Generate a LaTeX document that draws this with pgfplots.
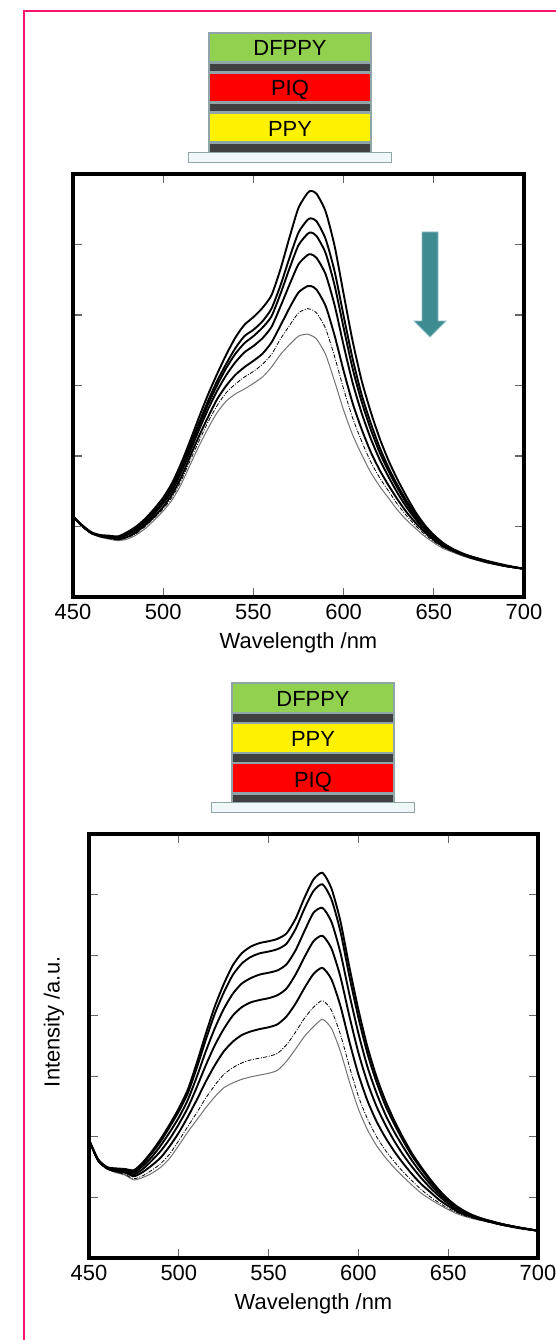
\documentclass[border=0pt]{standalone}
\usepackage{pgfplots}
\pgfplotsset{compat=1.18}
\usepackage{pgfplotstable}
\usepackage{fontspec}
\setmainfont{Liberation Sans}
\definecolor{pinkb}{RGB}{255,20,110}
\definecolor{dfgreen}{RGB}{146,208,80}
\definecolor{layergray}{RGB}{143,165,168}
\definecolor{darkl}{RGB}{64,64,64}
\definecolor{subfill}{RGB}{240,247,248}
\definecolor{tealA}{RGB}{62,140,146}
\definecolor{tealB}{RGB}{140,190,195}
\newcommand\bigfont{\fontsize{22}{26}\selectfont}

\pgfplotstableread{
x a b c d e f g
450 1.14 1.14 1.14 1.14 1.14 1.14 1.14
455 1.02 1.02 1.01 1.01 1.01 1.00 1.00
460 0.92 0.92 0.91 0.91 0.91 0.90 0.90
465 0.88 0.87 0.87 0.87 0.86 0.86 0.85
470 0.87 0.86 0.86 0.85 0.84 0.83 0.82
475 0.86 0.85 0.84 0.83 0.82 0.81 0.80
480 0.92 0.90 0.89 0.88 0.85 0.84 0.82
485 1.00 0.98 0.97 0.95 0.92 0.90 0.88
490 1.11 1.08 1.07 1.05 1.02 1.00 0.97
495 1.25 1.22 1.20 1.18 1.14 1.12 1.09
500 1.41 1.37 1.35 1.33 1.28 1.25 1.22
505 1.62 1.57 1.55 1.51 1.46 1.42 1.38
510 1.90 1.84 1.81 1.77 1.70 1.65 1.60
515 2.22 2.16 2.12 2.07 2.00 1.94 1.88
520 2.56 2.48 2.44 2.38 2.29 2.22 2.15
525 2.88 2.79 2.74 2.67 2.56 2.49 2.40
530 3.17 3.07 3.01 2.93 2.81 2.72 2.62
535 3.44 3.31 3.25 3.15 3.00 2.90 2.78
540 3.68 3.53 3.45 3.33 3.15 3.02 2.88
545 3.86 3.70 3.60 3.47 3.26 3.12 2.95
550 3.97 3.79 3.70 3.56 3.35 3.20 3.03
555 4.10 3.91 3.82 3.67 3.45 3.30 3.12
560 4.28 4.09 3.98 3.83 3.61 3.44 3.26
565 4.65 4.42 4.30 4.12 3.85 3.66 3.44
570 5.10 4.81 4.66 4.43 4.10 3.85 3.58
575 5.52 5.17 4.99 4.72 4.32 4.03 3.70
580 5.73 5.35 5.15 4.85 4.41 4.09 3.73
582 5.76 5.37 5.17 4.86 4.41 4.08 3.71
585 5.72 5.33 5.12 4.81 4.36 4.03 3.66
590 5.47 5.08 4.88 4.58 4.13 3.81 3.44
595 4.98 4.62 4.42 4.14 3.71 3.41 3.06
600 4.30 3.99 3.82 3.57 3.21 2.95 2.65
605 3.63 3.38 3.24 3.04 2.75 2.54 2.30
610 3.07 2.87 2.77 2.61 2.38 2.21 2.02
615 2.63 2.47 2.38 2.25 2.06 1.92 1.77
620 2.25 2.12 2.05 1.95 1.80 1.69 1.57
625 1.93 1.83 1.78 1.70 1.58 1.50 1.40
630 1.66 1.58 1.54 1.47 1.38 1.31 1.23
635 1.42 1.36 1.32 1.27 1.20 1.15 1.09
640 1.20 1.16 1.13 1.10 1.05 1.01 0.97
645 1.02 0.99 0.97 0.95 0.92 0.89 0.86
650 0.88 0.86 0.85 0.83 0.81 0.79 0.77
655 0.77 0.76 0.75 0.74 0.72 0.71 0.69
660 0.69 0.68 0.68 0.67 0.66 0.65 0.64
665 0.63 0.62 0.62 0.61 0.61 0.60 0.59
670 0.58 0.58 0.57 0.57 0.56 0.56 0.55
680 0.51 0.50 0.50 0.50 0.49 0.49 0.48
690 0.45 0.44 0.44 0.44 0.44 0.43 0.43
700 0.40 0.40 0.40 0.40 0.40 0.40 0.40
}\topdata

\pgfplotstableread{
x a b c d e f g
450 1.95 1.95 1.95 1.95 1.95 1.95 1.95
455 1.63 1.63 1.62 1.62 1.61 1.60 1.60
460 1.50 1.50 1.49 1.49 1.48 1.47 1.47
465 1.48 1.47 1.46 1.45 1.43 1.42 1.41
470 1.47 1.46 1.45 1.43 1.41 1.38 1.37
475 1.45 1.44 1.41 1.38 1.35 1.31 1.29
480 1.58 1.56 1.52 1.47 1.42 1.36 1.33
485 1.76 1.73 1.67 1.61 1.53 1.45 1.40
490 1.97 1.93 1.86 1.77 1.66 1.56 1.50
495 2.21 2.17 2.08 1.97 1.85 1.72 1.65
500 2.47 2.42 2.32 2.21 2.07 1.94 1.86
505 2.78 2.72 2.61 2.48 2.33 2.17 2.08
510 3.22 3.14 2.99 2.82 2.61 2.40 2.28
515 3.70 3.60 3.41 3.18 2.91 2.64 2.48
520 4.15 4.03 3.79 3.51 3.18 2.85 2.66
525 4.52 4.38 4.11 3.78 3.41 3.03 2.81
530 4.83 4.67 4.36 4.00 3.57 3.14 2.89
535 5.03 4.86 4.53 4.14 3.68 3.22 2.95
540 5.14 4.97 4.62 4.22 3.74 3.27 2.99
545 5.20 5.03 4.68 4.26 3.78 3.30 3.02
550 5.23 5.06 4.71 4.29 3.81 3.33 3.05
555 5.27 5.10 4.75 4.34 3.86 3.38 3.10
560 5.36 5.19 4.85 4.45 3.99 3.52 3.25
565 5.60 5.43 5.08 4.68 4.20 3.73 3.45
570 5.95 5.77 5.40 4.97 4.46 3.96 3.66
575 6.25 6.06 5.70 5.23 4.69 4.14 3.82
580 6.36 6.17 5.78 5.32 4.79 4.25 3.94
585 6.10 5.92 5.55 5.11 4.60 4.09 3.79
590 5.56 5.39 5.04 4.64 4.16 3.69 3.41
595 4.80 4.65 4.35 3.99 3.57 3.16 2.91
600 4.10 3.97 3.71 3.39 3.03 2.67 2.46
605 3.49 3.38 3.16 2.90 2.60 2.30 2.12
610 3.00 2.91 2.73 2.51 2.26 2.01 1.86
615 2.60 2.52 2.37 2.20 1.99 1.78 1.66
620 2.27 2.21 2.08 1.93 1.76 1.59 1.49
625 1.98 1.93 1.83 1.70 1.56 1.42 1.34
630 1.72 1.68 1.60 1.50 1.38 1.27 1.20
635 1.50 1.47 1.40 1.32 1.22 1.13 1.07
640 1.30 1.27 1.22 1.16 1.09 1.01 0.97
645 1.12 1.10 1.06 1.02 0.96 0.91 0.88
650 0.97 0.96 0.93 0.90 0.86 0.82 0.80
655 0.85 0.84 0.82 0.80 0.77 0.75 0.73
660 0.76 0.75 0.74 0.73 0.71 0.69 0.68
665 0.69 0.69 0.68 0.67 0.66 0.65 0.64
670 0.64 0.64 0.63 0.63 0.62 0.61 0.61
680 0.56 0.56 0.56 0.55 0.55 0.54 0.54
690 0.50 0.50 0.50 0.50 0.49 0.49 0.49
700 0.45 0.45 0.45 0.45 0.45 0.45 0.45
}\botdata

\pgfplotsset{
  spec/.style={
    scale only axis, anchor=south west,
    xmin=450, xmax=700, ymin=0,
    xtick={450,500,...,700},
    yticklabels={},
    tick align=inside, major tick length=9bp,
    tick style={line width=1.2bp, draw=black!60},
    axis line style={line width=3.5bp, black},
    axis on top,
    /pgf/number format/assume math mode=true,
    tick label style={font=\bigfont},
    xticklabel style={yshift=-4bp},
    label style={font=\bigfont},
    xlabel={Wavelength /nm},
    xlabel style={yshift=-6bp},
  },
  thk/.style={black, line width=1.9bp, smooth, tension=0.4},
  dsh/.style={black, line width=0.8bp, smooth, tension=0.4, dash pattern=on 4bp off 1.5bp on 1bp off 1.5bp},
  gry/.style={black!55, line width=1bp, smooth, tension=0.4},
}

\begin{document}
\begin{tikzpicture}[x=1bp,y=1bp]
\useasboundingbox (0,0) rectangle (556,-1340);
\clip (0,0) rectangle (556,-1340);
\fill[white] (0,0) rectangle (556,-1340);
\draw[pinkb, line width=2bp] (23.5,-1400) -- (23.5,-11.5) -- (700,-11.5);

% stack 1
\fill[layergray] (208,-32) rectangle (372,-153);
\fill[dfgreen] (210,-34) rectangle (370,-61.5);
\fill[darkl] (210,-64) rectangle (370,-71.5);
\fill[red] (210,-74) rectangle (370,-101.5);
\fill[darkl] (210,-104) rectangle (370,-111.5);
\fill[yellow] (210,-114) rectangle (370,-141.5);
\fill[darkl] (210,-144.5) rectangle (370,-152);
\draw[layergray, fill=subfill, line width=1.5bp] (188.5,-152.5) rectangle (391.5,-162.5);
\node[font=\bigfont, anchor=base, inner sep=0] at (290,-56) {DFPPY};
\node[font=\bigfont, anchor=base, inner sep=0] at (290,-96) {PIQ};
\node[font=\bigfont, anchor=base, inner sep=0] at (290,-136.5) {PPY};

% stack 2
\begin{scope}[shift={(23,-650)}]
\fill[layergray] (208,-32) rectangle (372,-153);
\fill[dfgreen] (210,-34) rectangle (370,-61.5);
\fill[darkl] (210,-64) rectangle (370,-71.5);
\fill[yellow] (210,-74) rectangle (370,-101.5);
\fill[darkl] (210,-104) rectangle (370,-111.5);
\fill[red] (210,-114) rectangle (370,-141.5);
\fill[darkl] (210,-144.5) rectangle (370,-152);
\draw[layergray, fill=subfill, line width=1.5bp] (188.5,-152.5) rectangle (391.5,-162.5);
\node[font=\bigfont, anchor=base, inner sep=0] at (290,-56) {DFPPY};
\node[font=\bigfont, anchor=base, inner sep=0] at (290,-96.5) {PPY};
\node[font=\bigfont, anchor=base, inner sep=0] at (290,-137) {PIQ};
\end{scope}

% top chart
\begin{axis}[spec, at={(73bp,-597bp)}, width=451bp, height=423bp, ymax=6, ytick={1,...,5}]
\addplot[gry] table[x=x,y=g] {\topdata};
\addplot[dsh] table[x=x,y=f] {\topdata};
\addplot[thk] table[x=x,y=e] {\topdata};
\addplot[thk] table[x=x,y=d] {\topdata};
\addplot[thk] table[x=x,y=c] {\topdata};
\addplot[thk] table[x=x,y=b] {\topdata};
\addplot[thk] table[x=x,y=a] {\topdata};
\end{axis}

% arrow
\draw[tealB, fill=tealA, line width=0.8bp] (422,-232) -- (438,-232) -- (438,-321) -- (446,-321) -- (430,-337) -- (414,-321) -- (422,-321) -- cycle;

% bottom chart
\begin{axis}[spec, at={(89bp,-1258bp)}, width=449bp, height=424bp, ymax=7, ytick={1,...,6},
  ylabel={Intensity /a.u.}, ylabel style={at={(axis description cs:-0.078,0.557)}, anchor=center}]
\addplot[gry] table[x=x,y=g] {\botdata};
\addplot[dsh] table[x=x,y=f] {\botdata};
\addplot[thk] table[x=x,y=e] {\botdata};
\addplot[thk] table[x=x,y=d] {\botdata};
\addplot[thk] table[x=x,y=c] {\botdata};
\addplot[thk] table[x=x,y=b] {\botdata};
\addplot[thk] table[x=x,y=a] {\botdata};
\end{axis}
\end{tikzpicture}
\end{document}
